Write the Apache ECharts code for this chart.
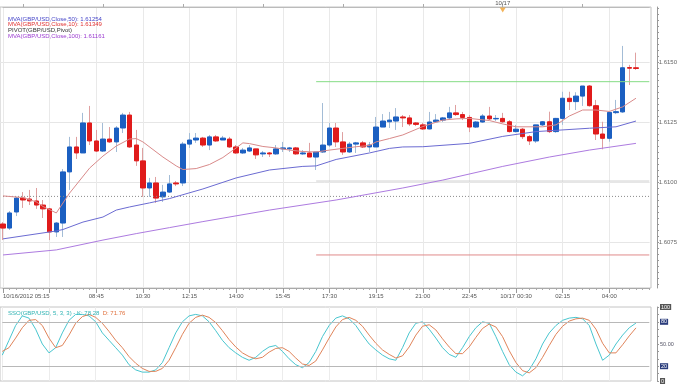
<!DOCTYPE html>
<html><head><meta charset="utf-8">
<script src="https://cdn.jsdelivr.net/npm/echarts@6/dist/echarts.min.js"></script>
<style>html,body{margin:0;padding:0;background:#fff}#c{width:680px;height:385px}</style>
</head><body><div id="c"></div>
<script>
// ---------------- data ----------------
const opens = [1.60825,1.60808,1.60875,1.60933,1.60929,1.60921,1.60904,1.60888,1.60792,1.60829,
1.61042,1.61146,1.61121,1.61246,1.61171,1.61129,1.61179,1.61167,1.61225,1.61279,
1.61154,1.61088,1.60975,1.60996,1.60938,1.60958,1.60996,1.60996,1.61158,1.61175,
1.61183,1.61154,1.61188,1.61175,1.61179,1.61146,1.61121,1.61129,1.61138,1.61117,
1.61121,1.61117,1.61138,1.61138,1.61142,1.61117,1.61121,1.61104,1.61125,1.61154,
1.61225,1.61167,1.61125,1.61158,1.61163,1.61146,1.61146,1.61229,1.61251,1.61254,
1.61271,1.61267,1.61246,1.61238,1.61221,1.61251,1.61258,1.61267,1.61288,1.61281,
1.61269,1.61229,1.61250,1.61275,1.61263,1.61265,1.61251,1.61210,1.61220,1.61189,
1.61171,1.61238,1.61251,1.61210,1.61265,1.61349,1.61335,1.61358,1.61400,1.61318,
1.61200,1.61182,1.61289,1.61292,1.61477,1.61476];
const closes = [1.60808,1.60871,1.60933,1.60925,1.60921,1.60904,1.60888,1.60792,1.60829,1.61042,
1.61146,1.61121,1.61246,1.61171,1.61129,1.61179,1.61167,1.61225,1.61279,1.61146,
1.61088,1.60975,1.60996,1.60933,1.60958,1.60992,1.60992,1.61158,1.61175,1.61183,
1.61154,1.61188,1.61171,1.61183,1.61146,1.61121,1.61133,1.61142,1.61113,1.61121,
1.61117,1.61138,1.61142,1.61142,1.61117,1.61121,1.61104,1.61125,1.61154,1.61225,
1.61167,1.61125,1.61158,1.61163,1.61146,1.61154,1.61229,1.61254,1.61258,1.61271,
1.61267,1.61242,1.61240,1.61221,1.61250,1.61258,1.61267,1.61288,1.61281,1.61269,
1.61229,1.61250,1.61275,1.61263,1.61265,1.61251,1.61210,1.61220,1.61189,1.61171,
1.61238,1.61251,1.61210,1.61265,1.61349,1.61335,1.61358,1.61400,1.61318,1.61200,
1.61182,1.61290,1.61293,1.61476,1.61474,1.61473];
const lows = [1.60758,1.60800,1.60858,1.60892,1.60904,1.60888,1.60850,1.60758,1.60771,1.60771,
1.60967,1.61096,1.61121,1.61154,1.61125,1.61125,1.61163,1.61125,1.61204,1.61142,
1.61067,1.60938,1.60938,1.60913,1.60917,1.60954,1.60983,1.60983,1.61142,1.61163,
1.61146,1.61133,1.61167,1.61175,1.61142,1.61117,1.61117,1.61125,1.61096,1.61104,
1.61104,1.61113,1.61125,1.61125,1.61113,1.61113,1.61104,1.61050,1.61121,1.61146,
1.61146,1.61113,1.61121,1.61121,1.61142,1.61125,1.61146,1.61229,1.61225,1.61217,
1.61229,1.61233,1.61233,1.61217,1.61219,1.61250,1.61250,1.61263,1.61275,1.61258,
1.61208,1.61225,1.61246,1.61258,1.61254,1.61246,1.61206,1.61206,1.61179,1.61154,
1.61163,1.61233,1.61204,1.61205,1.61238,1.61300,1.61300,1.61317,1.61314,1.61175,
1.61136,1.61168,1.61283,1.61288,1.61404,1.61467];
const highs = [1.60833,1.60879,1.60938,1.60958,1.60967,1.60975,1.60925,1.60892,1.60833,1.61054,
1.61188,1.61188,1.61288,1.61317,1.61217,1.61246,1.61229,1.61233,1.61288,1.61292,
1.61217,1.61142,1.61017,1.61021,1.60988,1.61029,1.61004,1.61167,1.61204,1.61204,
1.61188,1.61196,1.61196,1.61192,1.61188,1.61154,1.61142,1.61154,1.61138,1.61129,
1.61125,1.61154,1.61167,1.61146,1.61146,1.61133,1.61163,1.61125,1.61329,1.61246,
1.61246,1.61208,1.61167,1.61167,1.61171,1.61167,1.61271,1.61283,1.61292,1.61308,
1.61279,1.61279,1.61250,1.61246,1.61292,1.61283,1.61271,1.61313,1.61321,1.61292,
1.61279,1.61254,1.61283,1.61313,1.61279,1.61288,1.61258,1.61238,1.61225,1.61196,
1.61238,1.61254,1.61293,1.61267,1.61376,1.61376,1.61374,1.61400,1.61404,1.61342,
1.61251,1.61293,1.61342,1.61567,1.61488,1.61539];

// moving averages, read at breakpoints: [bar index], [value]
const ma10Bars = [0,3,5,6,8,10,13,15,17,19,20,21,24,26,27,29,31,33,35,36,37,39,41,43,45,47,49,51,53,55,56,58,60,63,66,68,70,73,75,77,81,83,85,87,89,91,93,95];
const ma10Vals = [1.60942,1.60935,1.60917,1.60898,1.60871,1.60954,1.61058,1.61108,1.61150,1.61179,1.61181,1.61167,1.61104,1.61067,1.61052,1.61056,1.61073,1.61102,1.61142,1.61163,1.61160,1.61148,1.61142,1.61133,1.61127,1.61125,1.61133,1.61140,1.61147,1.61152,1.61167,1.61181,1.61196,1.61231,1.61258,1.61263,1.61265,1.61256,1.61242,1.61230,1.61230,1.61238,1.61275,1.61300,1.61300,1.61294,1.61313,1.61349];
const ma50Bars = [0,8,9,12,15,17,19,22,25,30,35,40,45,47,50,55,58,60,63,70,75,80,88,92,95];
const ma50Vals = [1.60763,1.60796,1.60802,1.60833,1.60854,1.60883,1.60896,1.60913,1.60931,1.60971,1.61017,1.61050,1.61065,1.61067,1.61094,1.61121,1.61140,1.61146,1.61147,1.61161,1.61190,1.61210,1.61224,1.61230,1.61254];
const ma100Bars = [0,8,15,20,25,30,40,50,60,66,75,82,88,95];
const ma100Vals = [1.60696,1.60717,1.60758,1.60785,1.60810,1.60835,1.60883,1.60925,1.60975,1.61008,1.61065,1.61104,1.61133,1.61161];

// pivot levels
const pivotStartBar = 47, pivotEndBar = 97;
const pivotR1 = 1.61418, pivotP = 1.61004, pivotS1 = 1.60696, prevPivot = 1.60940;

// slow stochastic
const stochK = [35,55,75,88,85,70,50,38,45,65,82,90,90,88,80,65,55,45,35,22,15,12,12,15,25,45,65,80,88,90,88,80,68,55,45,38,32,28,32,40,46,48,40,30,22,18,25,40,60,75,85,88,84,75,62,50,42,35,30,28,45,65,78,80,70,58,45,36,32,45,60,72,80,78,60,40,22,12,7,15,30,50,65,75,82,85,86,84,75,50,28,35,50,62,72,78.28];
const stochD = [40,45,58,72,82,83,75,58,45,48,62,78,87,90,86,78,67,55,45,33,24,17,13,13,17,28,45,63,78,86,89,86,79,68,56,46,38,33,30,32,39,44,45,40,31,23,21,27,42,58,73,83,86,82,74,62,51,42,36,31,34,46,62,74,76,69,57,46,37,37,46,59,71,77,73,60,41,25,14,11,18,32,48,63,74,81,84,85,82,70,51,38,38,49,61,71.76];

// axis labels
const tickBars = [0,14,21,28,35,42,49,56,63,70,77,84,91];
const tickLabels = ['10/16/2012 05:15','08:45','10:30','12:15','14:00','15:45','17:30','19:15','21:00','22:45','10/17 00:30','02:15','04:00'];
const dayMarkBar = 75, dayMarkLabel = '10/17';

// ---------------- build ----------------
const N = 98;
const categories = Array.from({length: N}, (_, i) => {
  const m = (5 * 60 + 15 + 15 * i) % 1440;
  return String(Math.floor(m / 60)).padStart(2, '0') + ':' + String(m % 60).padStart(2, '0');
});
const ohlc = opens.map((o, i) => [o, closes[i], lows[i], highs[i]]);
const bodies = opens.map((o, i) => [o, closes[i], Math.min(o, closes[i]), Math.max(o, closes[i])]);
const pairs = (b, v) => b.map((x, i) => [x, v[i]]);
const lastClose = closes[closes.length - 1];
const F = 'Liberation Sans';
const FS = 6;
const MAIN_MIN = 1.605583, MAIN_MAX = 1.617292;

const chart = echarts.init(document.getElementById('c'), null, {renderer: 'canvas'});
chart.setOption({
  animation: false,
  backgroundColor: '#fff',
  textStyle: {fontFamily: F},
  title: [
    {left: 3, top: 11, text:
      '{a|MVA(GBP/USD,Close,50): ' + ma50Vals[ma50Vals.length-1].toFixed(5) + '}\n' +
      '{b|MVA(GBP/USD,Close,10): ' + ma10Vals[ma10Vals.length-1].toFixed(5) + '}\n' +
      '{c|PIVOT(GBP/USD,Pivot)}\n' +
      '{d|MVA(GBP/USD,Close,100): ' + ma100Vals[ma100Vals.length-1].toFixed(5) + '}',
      textStyle: {fontSize: FS, fontWeight: 'normal', lineHeight: 5.7, rich: {
        a: {color: '#4545c8', fontSize: FS, lineHeight: 5.7, fontFamily: F},
        b: {color: '#e03030', fontSize: FS, lineHeight: 5.7, fontFamily: F},
        c: {color: '#333', fontSize: FS, lineHeight: 5.7, fontFamily: F},
        d: {color: '#9a3ad0', fontSize: FS, lineHeight: 5.7, fontFamily: F}
      }}},
    {left: 3, top: 305, text:
      '{k|SSO(GBP/USD, 5, 3, 3) - K: ' + stochK[stochK.length-1].toFixed(2) + '}  {d|D: ' + stochD[stochD.length-1].toFixed(2) + '}',
      textStyle: {fontSize: FS, fontWeight: 'normal', rich: {
        k: {color: '#2fb3b3', fontSize: FS, fontFamily: F},
        d: {color: '#e0703c', fontSize: FS, fontFamily: F}
      }}}
  ],
  grid: [
    {left: 2.3, right: 30.7, top: 7, height: 281, show: false},
    {left: 0, right: 29, top: 2, height: 300, show: false},
    {left: 0, right: 29, top: 7, height: 281, show: true, borderColor: '#c4c4c4', borderWidth: 1, backgroundColor: 'transparent'},
    {left: 2.3, right: 30.7, top: 307, height: 74, show: false},
    {left: 0, right: 29, top: 307, height: 74, show: true, borderColor: '#c4c4c4', borderWidth: 1, backgroundColor: 'transparent'},
    {left: 0, right: 29, top: 8, height: 276, show: false}
  ],
  xAxis: [
    {gridIndex: 0, type: 'category', data: categories, boundaryGap: false, position: 'bottom',
      axisLine: {show: true, onZero: false, lineStyle: {color: '#aaa'}},
      axisTick: {show: true, interval: 0, length: 2, lineStyle: {color: '#aaa'}},
      axisLabel: {show: true, interval: (i) => tickBars.includes(i), formatter: (v, i) => tickLabels[tickBars.indexOf(i)] || '',
        fontSize: FS, color: '#555', margin: 5, fontFamily: F, alignMinLabel: 'left', showMinLabel: true},
      splitLine: {show: true, interval: 6, lineStyle: {color: '#e9e9e9', width: 1}}},
    {gridIndex: 0, type: 'category', data: categories, boundaryGap: false, position: 'top',
      axisLine: {show: true, onZero: false, lineStyle: {color: '#bbb'}},
      axisTick: {show: true, interval: (i) => i % 12 === 3, length: 3, lineStyle: {color: '#aaa'}},
      axisLabel: {show: true, interval: (i) => i === dayMarkBar, formatter: (v, i) => i === dayMarkBar ? dayMarkLabel : '',
        fontSize: FS, color: '#555', margin: 1, fontFamily: F},
      splitLine: {show: false}},
    {gridIndex: 0, type: 'category', data: categories, boundaryGap: false, position: 'bottom',
      axisLine: {show: false, onZero: false}, axisTick: {show: true, interval: 6, length: 5, lineStyle: {color: '#999'}},
      axisLabel: {show: false}, splitLine: {show: false}},
    {gridIndex: 1, type: 'value', show: false, min: 0, max: 1},
    {gridIndex: 2, type: 'value', show: false, min: 0, max: 1},
    {gridIndex: 3, type: 'category', data: categories, boundaryGap: false,
      axisLine: {show: false, onZero: false}, axisTick: {show: false}, axisLabel: {show: false},
      splitLine: {show: true, interval: 6, lineStyle: {color: '#ececec', width: 1}}},
    {gridIndex: 4, type: 'value', show: false, min: 0, max: 1},
    {gridIndex: 5, type: 'value', show: false, min: 0, max: 1}
  ],
  yAxis: [
    {gridIndex: 0, type: 'value', min: MAIN_MIN, max: MAIN_MAX, show: false, scale: true},
    {gridIndex: 1, type: 'value', min: 1.6050, max: 1.6175, interval: 0.0025, position: 'right', offset: 6,
      axisLine: {show: false, onZero: false},
      axisTick: {show: false},
      axisLabel: {show: true, showMinLabel: false, showMaxLabel: false, fontSize: FS, color: '#666', margin: 3, fontFamily: F,
        formatter: (v) => v.toFixed(4)},
      splitLine: {show: true, showMinLine: false, showMaxLine: false, lineStyle: {color: '#e6e6e6', width: 1}}},
    {gridIndex: 2, type: 'value', min: 0, max: 1, position: 'right', offset: 6,
      axisLine: {show: true, onZero: false, lineStyle: {color: '#999'}}, axisTick: {show: false}, axisLabel: {show: false}, splitLine: {show: false}},
    {gridIndex: 3, type: 'value', min: 0, max: 100, interval: 10, position: 'right', offset: 7.7,
      axisLine: {show: true, onZero: false, lineStyle: {color: '#999'}},
      axisTick: {show: true, length: 2, lineStyle: {color: '#999'}},
      axisLabel: {show: true, fontSize: 5.5, margin: 3, fontFamily: F, color: '#556',
        formatter: (v) => v === 100 ? '{g|100}' : v === 80 ? '{n|80}' : v === 50 ? '50.00' : v === 20 ? '{n|20}' : v === 0 ? '{g|0}' : '',
        rich: {
          g: {backgroundColor: '#555', color: '#fff', fontSize: 5.5, padding: [0, 1], fontFamily: F},
          n: {backgroundColor: '#2b3d7c', color: '#fff', fontSize: 5.5, padding: [0, 1], fontFamily: F}
        }},
      splitLine: {show: false}},
    {gridIndex: 4, type: 'value', min: 0, max: 1, show: false},
    {gridIndex: 5, type: 'value', min: 1.60575, max: 1.61725, interval: 0.00025, position: 'right', offset: 6,
      axisLine: {show: false, onZero: false},
      axisTick: {show: true, length: 2, lineStyle: {color: '#999'}},
      axisLabel: {show: false}, splitLine: {show: false}}
  ],
  series: [
    {type: 'line', name: 'prevPivot', xAxisIndex: 0, yAxisIndex: 0, symbol: 'none', silent: true,
      data: [[0, prevPivot], [pivotEndBar, prevPivot]], lineStyle: {color: '#8a8a8a', width: 1, type: [1, 2]}},
    {type: 'line', name: 'R1', xAxisIndex: 0, yAxisIndex: 0, symbol: 'none', silent: true,
      data: [[pivotStartBar, pivotR1], [pivotEndBar, pivotR1]], lineStyle: {color: '#86dc86', width: 1}},
    {type: 'line', name: 'P', xAxisIndex: 0, yAxisIndex: 0, symbol: 'none', silent: true,
      data: [[pivotStartBar, pivotP], [pivotEndBar, pivotP]], lineStyle: {color: '#d0d0d0', width: 1}},
    {type: 'line', name: 'S1', xAxisIndex: 0, yAxisIndex: 0, symbol: 'none', silent: true,
      data: [[pivotStartBar, pivotS1], [pivotEndBar, pivotS1]], lineStyle: {color: '#e08a8a', width: 1}},
    {type: 'line', name: 'MA100', xAxisIndex: 0, yAxisIndex: 0, symbol: 'none', data: pairs(ma100Bars, ma100Vals),
      lineStyle: {color: '#ad7be0', width: 1}},
    {type: 'line', name: 'MA50', xAxisIndex: 0, yAxisIndex: 0, symbol: 'none', data: pairs(ma50Bars, ma50Vals),
      lineStyle: {color: '#6b6bd2', width: 1}},
    {type: 'line', name: 'MA10', xAxisIndex: 0, yAxisIndex: 0, symbol: 'none', data: pairs(ma10Bars, ma10Vals),
      lineStyle: {color: '#d98a8a', width: 1}},
    {type: 'candlestick', name: 'wicks', xAxisIndex: 0, yAxisIndex: 0, data: ohlc, barWidth: 1, clip: false,
      itemStyle: {color: '#a3bcd6', color0: '#dfa0a0', borderColor: '#a3bcd6', borderColor0: '#dfa0a0', borderWidth: 1}},
    {type: 'candlestick', name: 'bodies', xAxisIndex: 0, yAxisIndex: 0, data: bodies, barWidth: 5, clip: false,
      itemStyle: {color: '#1b5fc1', color0: '#e01b1b', borderColor: '#1b5fc1', borderColor0: '#e01b1b', borderWidth: 1},
      markLine: {silent: true, symbol: 'none', data: [{yAxis: lastClose}], lineStyle: {opacity: 0},
        label: {show: true, position: 'end', distance: 8, formatter: () => lastClose.toFixed(5),
          backgroundColor: '#9fd4f2', color: '#1d3550', fontSize: 5.5, padding: [1, 1, 0, 1], fontFamily: F}}},
    {type: 'scatter', name: 'daymark', xAxisIndex: 0, yAxisIndex: 0, clip: false, silent: true,
      data: [[dayMarkBar, MAIN_MAX]], symbol: 'triangle', symbolRotate: 180, symbolSize: [6, 5], symbolOffset: [0, 3],
      itemStyle: {color: '#f0a030'}},
    {type: 'line', name: 'K', xAxisIndex: 5, yAxisIndex: 3, symbol: 'none', data: stochK,
      lineStyle: {color: '#49c6cf', width: 1},
      markLine: {silent: true, symbol: 'none', label: {show: false}, lineStyle: {color: '#b8b8b8', width: 1, type: 'solid'},
        data: [{yAxis: 80}, {yAxis: 20}]}},
    {type: 'line', name: 'D', xAxisIndex: 5, yAxisIndex: 3, symbol: 'none', data: stochD,
      lineStyle: {color: '#e0845a', width: 1}}
  ]
});
</script>
</body></html>
